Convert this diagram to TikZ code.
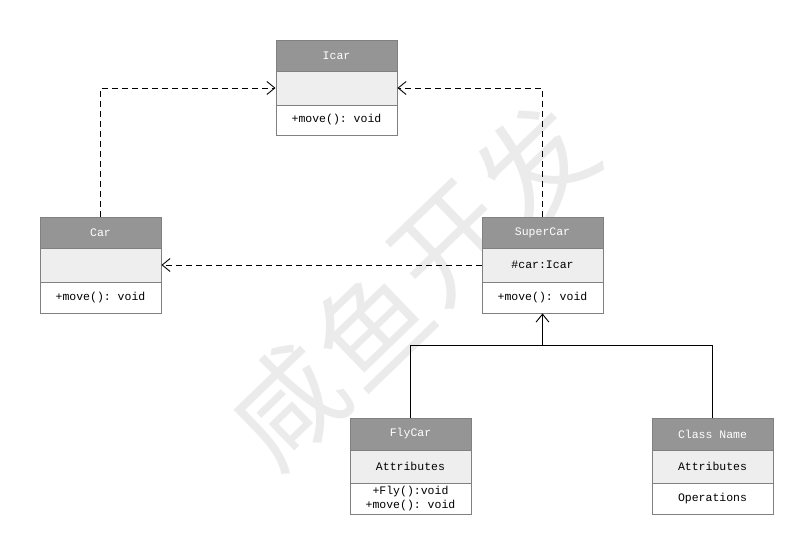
\documentclass[tikz,border=0pt]{standalone}
\usepackage{fontspec}
\setmonofont{Liberation Mono}
\newfontfamily\cjk{Noto Sans CJK SC}
\usetikzlibrary{arrows.meta}
\definecolor{hdrgray}{HTML}{959595}
\definecolor{attrgray}{HTML}{EEEEEE}
\definecolor{framegray}{HTML}{808080}
\definecolor{wmark}{HTML}{EBEBEB}
\tikzset{
  part/.style={draw=framegray, line width=0.9pt, minimum width=121pt, inner sep=0pt,
    font=\ttfamily\fontsize{11.5}{14}\selectfont, align=center},
  hdr/.style={part, fill=hdrgray, text=white},
  attr/.style={part, fill=attrgray},
  ops/.style={part, fill=white},
  conn/.style={line width=0.9pt, black},
  dep/.style={conn, dash pattern=on 6pt off 4pt, -{Straight Barb[length=8pt,width=13pt,line width=0.9pt]}},
  inh/.style={conn, -{Straight Barb[length=8pt,width=13pt,line width=0.9pt]}},
  wm/.style={text=wmark, rotate=44, inner sep=0pt, font=\cjk\fontsize{112}{112}\selectfont}
}
\begin{document}
\begin{tikzpicture}[x=1pt,y=-1pt]
\useasboundingbox (0,0) rectangle (811,551);
\fill[white] (0,0) rectangle (811,551);
% watermark, one glyph per node along the diagonal
\node[wm] (wm1) at (287,405) {咸};
\node[wm] (wm2) at (370,325) {鱼};
\node[wm] (wm3) at (452,245) {开};
\node[wm] (wm4) at (535,165) {发};

% Icar
\node[hdr, minimum height=31pt] (icar-h) at (336.5,55.5) {Icar};
\node[attr, minimum height=34pt] (icar-a) at (336.5,88) {};
\node[ops, minimum height=30pt] (icar-o) at (336.5,120) {+move(): void};

% Car
\node[hdr, minimum height=31pt] (car-h) at (100.5,232.5) {Car};
\node[attr, minimum height=34pt] (car-a) at (100.5,265) {};
\node[ops, minimum height=31pt] (car-o) at (100.5,297.5) {+move(): void};

% SuperCar
\node[hdr, minimum height=31pt] (sc-h) at (542.5,232.5) {SuperCar};
\node[attr, minimum height=34pt] (sc-a) at (542.5,265) {\#car:Icar};
\node[ops, minimum height=31pt] (sc-o) at (542.5,297.5) {+move(): void};

% FlyCar
\node[hdr, minimum height=32pt] (fly-h) at (410.5,434) {FlyCar};
\node[attr, minimum height=33pt] (fly-a) at (410.5,466.5) {Attributes};
\node[ops, minimum height=31pt] (fly-o) at (410.5,498.5) {+Fly():void\\+move(): void};

% Class Name
\node[hdr, minimum height=32pt] (cn-h) at (712.5,434) {Class Name};
\node[attr, minimum height=33pt] (cn-a) at (712.5,466.5) {Attributes};
\node[ops, minimum height=31pt] (cn-o) at (712.5,498.5) {Operations};

% realization / dependency links
\draw[dep] (car-h.north) |- (icar-a.west);
\draw[dep] (sc-h.north) |- (icar-a.east);
\draw[dep] (sc-a.west) -- (car-a.east);

% generalization tree
\coordinate (join) at (542.5,345);
\draw[conn] (fly-h.north) |- (join);
\draw[conn] (cn-h.north) |- (join);
\draw[inh] (join) -- (sc-o.south);
\end{tikzpicture}
\end{document}
